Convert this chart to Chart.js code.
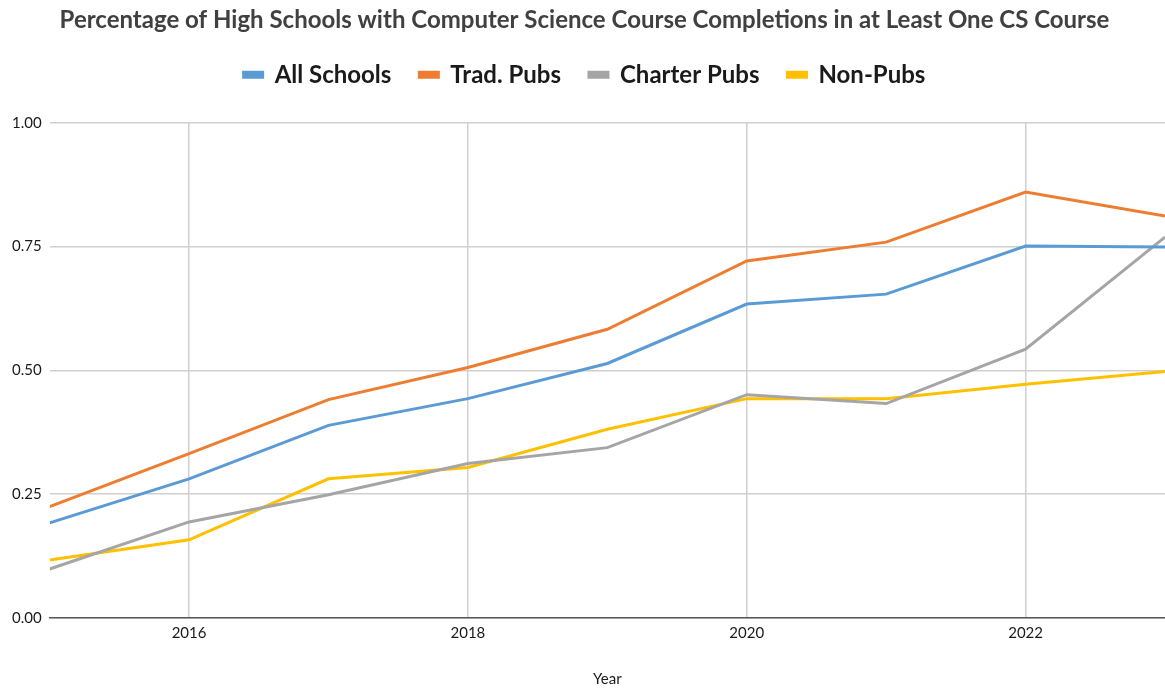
<!DOCTYPE html>
<html>
<head>
<meta charset="utf-8">
<script src="https://cdn.jsdelivr.net/npm/chart.js@4/dist/chart.umd.min.js"></script>
<style>
  html, body { margin: 0; padding: 0; background: #fff; }
  #wrap { width: 1165px; height: 688px; }
</style>
</head>
<body>
<div id="wrap"><canvas id="csChart" width="1165" height="688"></canvas></div>
<script>
// values
const years = [2015, 2016, 2017, 2018, 2019, 2020, 2021, 2022, 2023];
const allSchools = [0.192, 0.281, 0.389, 0.443, 0.514, 0.634, 0.654, 0.751, 0.749];
const tradPubs = [0.225, 0.332, 0.441, 0.506, 0.583, 0.721, 0.759, 0.860, 0.812];
const charterPubs = [0.099, 0.194, 0.249, 0.312, 0.344, 0.451, 0.433, 0.543, 0.769];
const nonPubs = [0.117, 0.158, 0.281, 0.304, 0.381, 0.443, 0.443, 0.472, 0.498];
const xTicks = [2016, 2018, 2020, 2022];

const font = "Lato, 'Open Sans', sans-serif";

function series(label, values, color) {
    return {
        label: label,
        data: years.map((y, i) => ({ x: y, y: values[i] })),
        borderColor: color,
        backgroundColor: color,
        borderWidth: 3,
        pointRadius: 0,
        tension: 0
    };
}

// extra room under the legend
const legendMargin = {
    id: 'legendMargin',
    beforeInit(chart) {
        const fit = chart.legend.fit;
        chart.legend.fit = function () {
            fit.bind(chart.legend)();
            this.height += 26;
        };
    }
};

const ctx = document.getElementById('csChart').getContext('2d');

new Chart(ctx, {
    type: 'line',
    data: {
        datasets: [
            series('All Schools', allSchools, '#5b9bd5'),
            series('Trad. Pubs', tradPubs, '#ed7d31'),
            series('Charter Pubs', charterPubs, '#a5a5a5'),
            series('Non-Pubs', nonPubs, '#ffc000')
        ]
    },
    options: {
        responsive: false,
        animation: false,
        layout: { padding: { left: 4, right: 0, top: 2, bottom: 0 } },
        plugins: {
            title: {
                display: true,
                text: 'Percentage of High Schools with Computer Science Course Completions in at Least One CS Course',
                color: '#404040',
                font: { family: font, size: 24, weight: 'bold' },
                padding: { top: 4, bottom: 0 }
            },
            legend: {
                display: true,
                position: 'top',
                labels: {
                    color: '#1a1a1a',
                    boxWidth: 19,
                    boxHeight: 5,
                    padding: 28,
                    font: { family: font, size: 24, weight: 'bold' }
                }
            },
            tooltip: { enabled: false }
        },
        scales: {
            x: {
                type: 'linear',
                min: 2015,
                max: 2023,
                afterBuildTicks: axis => { axis.ticks = xTicks.map(v => ({ value: v })); },
                ticks: {
                    color: '#1a1a1a',
                    font: { family: font, size: 15 },
                    padding: 6,
                    callback: v => String(v)
                },
                grid: { color: '#d0d0d0', lineWidth: 1.5, drawTicks: false },
                border: { display: true, color: '#595959', width: 1.5 },
                title: {
                    display: true,
                    text: 'Year',
                    color: '#1a1a1a',
                    font: { family: font, size: 15 },
                    padding: { top: 22, bottom: 0 }
                }
            },
            y: {
                min: 0,
                max: 1,
                ticks: {
                    stepSize: 0.25,
                    color: '#1a1a1a',
                    font: { family: font, size: 15 },
                    padding: 8,
                    callback: v => v.toFixed(2)
                },
                grid: { color: '#d0d0d0', lineWidth: 1.5, drawTicks: false },
                border: { display: false }
            }
        }
    },
    plugins: [legendMargin]
});
</script>
</body>
</html>
